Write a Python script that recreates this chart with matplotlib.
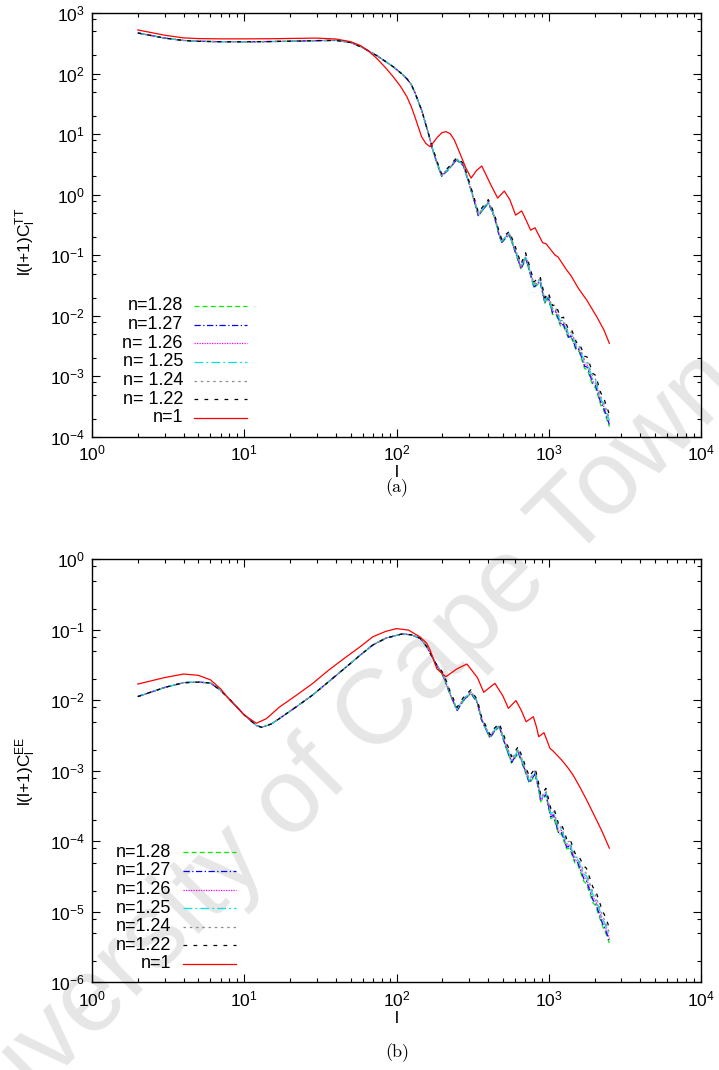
import matplotlib
matplotlib.use('Agg')
import matplotlib.pyplot as plt
from matplotlib.ticker import LogLocator, NullFormatter, LogFormatterSciNotation

plt.rcParams['font.family'] = ['Liberation Sans', 'DejaVu Sans']
plt.rcParams['mathtext.fontset'] = 'custom'
plt.rcParams['mathtext.rm'] = 'Liberation Sans'
plt.rcParams['mathtext.it'] = 'Liberation Sans:italic'
plt.rcParams['mathtext.default'] = 'regular'
plt.rcParams['axes.unicode_minus'] = False

# ---------------- data: panel (a) TT ----------------
labels_tt = ["n=1.28", "n=1.27", "n= 1.26", "n= 1.25", "n= 1.24", "n= 1.22", "n=1"]
labels_ee = ["n=1.28", "n=1.27", "n=1.26", "n=1.25", "n=1.24", "n=1.22", "n=1"]

# low-l part where all n != 1 curves coincide
ell_tt_low = [2, 3, 4, 5, 7, 10, 15, 20, 30, 40, 50, 60, 75, 95, 110, 118, 125, 132, 140, 147, 155, 162]
tt_low = [468, 385, 352, 341, 336, 335, 338, 342, 350, 353, 326, 268, 195, 130, 96, 80, 66, 49, 33, 24, 15, 10.3]

ell_tt_high = [170, 185, 198, 220, 248, 275, 300, 325, 345, 370, 401, 440, 470, 491, 520, 551,
               600, 658, 705, 750, 800, 877, 945, 993, 1060, 1110, 1200, 1250, 1350, 1410,
               1520, 1580, 1720, 1790, 1950, 2030, 2200, 2290, 2500]
tt_n128 = [6.2, 3.2, 2.0, 2.6, 3.7, 3.0, 1.5, 0.75, 0.44, 0.56, 0.72, 0.42, 0.22, 0.16, 0.19, 0.215,
           0.115, 0.058, 0.088, 0.052, 0.029, 0.036, 0.0158, 0.0195, 0.0105, 0.0110, 0.0066, 0.0068,
           0.0042, 0.0043, 0.0026, 0.0026, 0.00135, 0.00130, 0.00070, 0.00065, 0.00033, 0.00028, 0.000148]
tt_n127 = [6.3, 3.25, 2.03, 2.64, 3.76, 3.05, 1.52, 0.765, 0.45, 0.57, 0.735, 0.43, 0.224, 0.163, 0.194, 0.219,
           0.119, 0.060, 0.091, 0.054, 0.030, 0.037, 0.0164, 0.0202, 0.0111, 0.0117, 0.0070, 0.0072,
           0.00445, 0.00456, 0.00276, 0.00276, 0.00147, 0.00142, 0.00076, 0.00071, 0.00036, 0.000305, 0.000161]
tt_n126 = [6.4, 3.3, 2.06, 2.68, 3.81, 3.09, 1.55, 0.78, 0.46, 0.585, 0.75, 0.44, 0.23, 0.167, 0.199, 0.225,
           0.123, 0.062, 0.094, 0.0556, 0.031, 0.0385, 0.0169, 0.0209, 0.0118, 0.0123, 0.0074, 0.0076,
           0.0047, 0.0048, 0.0029, 0.0029, 0.00159, 0.00153, 0.00083, 0.00077, 0.00039, 0.00033, 0.000175]
tt_n125 = [6.45, 3.33, 2.08, 2.7, 3.85, 3.12, 1.56, 0.795, 0.466, 0.594, 0.763, 0.445, 0.233, 0.17, 0.201, 0.228,
           0.127, 0.064, 0.097, 0.057, 0.032, 0.040, 0.0174, 0.0215, 0.0124, 0.013, 0.0078, 0.008,
           0.0050, 0.0051, 0.0031, 0.0031, 0.00171, 0.00165, 0.00089, 0.00083, 0.00042, 0.000356, 0.000188]
tt_n124 = [6.55, 3.4, 2.12, 2.76, 3.92, 3.18, 1.59, 0.82, 0.48, 0.61, 0.785, 0.458, 0.24, 0.174, 0.207, 0.234,
           0.132, 0.067, 0.101, 0.06, 0.0334, 0.0414, 0.0182, 0.0224, 0.0131, 0.0138, 0.0083, 0.0085,
           0.00525, 0.0054, 0.00325, 0.00325, 0.00186, 0.00179, 0.00097, 0.0009, 0.000455, 0.000386, 0.000204]
tt_n122 = [6.8, 3.5, 2.2, 2.86, 4.07, 3.3, 1.65, 0.86, 0.506, 0.644, 0.83, 0.483, 0.253, 0.184, 0.219, 0.247,
           0.144, 0.0725, 0.11, 0.065, 0.0363, 0.045, 0.0198, 0.0244, 0.0147, 0.0154, 0.0092, 0.0095,
           0.0059, 0.006, 0.00364, 0.00364, 0.00216, 0.00208, 0.00112, 0.00104, 0.00053, 0.00045, 0.000237]

ell_tt_n1 = [2, 3, 4, 5, 7, 10, 15, 20, 30, 40, 50, 58, 66, 74, 84, 95, 106, 117, 125, 132, 139, 146,
             156, 166, 185, 198, 211, 225, 240, 261, 285, 309, 335, 363, 422, 462, 511, 556, 606, 664,
             710, 760, 812, 912, 960, 1099, 1150, 1312, 1400, 1565, 1774, 2065, 2300, 2500]
tt_n1 = [525, 430, 388, 378, 374, 374, 376, 380, 385, 372, 336, 290, 232, 179, 128, 89, 62, 41.5, 28.5, 19.4,
         13.2, 9.1, 7.0, 6.2, 8.8, 10.5, 11.0, 10.2, 8.0, 4.8, 2.8, 1.88, 2.5, 2.98, 1.36, 0.88, 1.15, 0.82,
         0.46, 0.54, 0.38, 0.26, 0.285, 0.161, 0.155, 0.101, 0.094, 0.057, 0.046, 0.0285, 0.0183, 0.0097,
         0.0059, 0.00352]

# ---------------- data: panel (b) EE ----------------
ell_ee_low = [2, 3, 4, 5, 6, 7, 8, 10, 12, 13, 15, 17, 22, 28, 36, 47, 58, 70, 85, 108, 125, 143, 158, 180]
ee_low = [0.0113, 0.0152, 0.0178, 0.0181, 0.0176, 0.0138, 0.0104, 0.0062, 0.0044, 0.00414, 0.0046, 0.0055,
          0.0081, 0.0118, 0.0185, 0.030, 0.044, 0.061, 0.076, 0.0871, 0.085, 0.0758, 0.0576, 0.034]

ell_ee_high = [203, 225, 250, 275, 308, 340, 361, 411, 440, 473, 520, 570, 631, 690, 746, 813, 850, 885,
               959, 1030, 1075, 1160, 1210, 1310, 1370, 1490, 1550, 1700, 1770, 1950, 2030, 2250, 2350, 2500]
ee_n128 = [0.0216, 0.012, 0.0071, 0.0098, 0.0126, 0.0090, 0.0053, 0.0029, 0.0036, 0.0042,
           0.0022, 0.00128, 0.00177, 0.00105, 0.00066, 0.00087, 0.00060, 0.000365, 0.00045,
           0.00021, 0.00022, 0.000125, 0.000128, 0.000078, 0.000080, 0.000048, 0.000047,
           0.000027, 0.000025, 0.0000135, 0.0000122, 0.0000063, 0.0000052, 0.0000036]
ee_n127 = [0.0219, 0.0122, 0.0072, 0.00995, 0.0128, 0.00914, 0.00538, 0.00294, 0.00365, 0.00426,
           0.00228, 0.00132, 0.00183, 0.00109, 0.000683, 0.0009, 0.00062, 0.000378, 0.000466,
           0.000223, 0.000233, 0.000133, 0.000136, 0.0000827, 0.0000848, 0.0000509, 0.0000498,
           0.0000294, 0.0000273, 0.0000147, 0.0000133, 0.00000687, 0.00000567, 0.00000392]
ee_n126 = [0.0224, 0.0124, 0.00735, 0.0101, 0.013, 0.00932, 0.00549, 0.003, 0.00373, 0.00435,
           0.00235, 0.00137, 0.00189, 0.00112, 0.000706, 0.00093, 0.000642, 0.00039, 0.000482,
           0.000235, 0.000246, 0.00014, 0.000143, 0.0000874, 0.0000896, 0.0000538, 0.0000526,
           0.0000319, 0.0000295, 0.0000159, 0.0000144, 0.00000743, 0.00000614, 0.00000425]
ee_n125 = [0.0227, 0.0126, 0.00746, 0.0103, 0.0132, 0.00945, 0.00557, 0.00305, 0.00378, 0.00441,
           0.00242, 0.00141, 0.00195, 0.00116, 0.000726, 0.000957, 0.00066, 0.000402, 0.000495,
           0.000248, 0.00026, 0.000148, 0.000151, 0.000092, 0.0000944, 0.0000566, 0.0000555,
           0.0000346, 0.000032, 0.0000173, 0.0000156, 0.00000806, 0.00000666, 0.00000461]
ee_n124 = [0.0231, 0.0128, 0.0076, 0.0105, 0.0135, 0.00963, 0.00567, 0.0031, 0.00385, 0.00449,
           0.00253, 0.00147, 0.00204, 0.00121, 0.000759, 0.001, 0.00069, 0.00042, 0.000518,
           0.000263, 0.000275, 0.000156, 0.00016, 0.0000975, 0.0001, 0.00006, 0.0000588,
           0.0000378, 0.000035, 0.0000189, 0.0000171, 0.00000882, 0.00000728, 0.00000504]
ee_n122 = [0.0242, 0.0134, 0.00795, 0.011, 0.0141, 0.0101, 0.00594, 0.00325, 0.00403, 0.0047,
           0.00275, 0.0016, 0.00221, 0.00131, 0.000825, 0.00109, 0.00075, 0.000456, 0.000563,
           0.000294, 0.000308, 0.000175, 0.000179, 0.000109, 0.000112, 0.0000672, 0.0000658,
           0.0000446, 0.0000413, 0.0000223, 0.0000201, 0.0000104, 0.00000858, 0.00000594]

ell_ee_n1 = [2, 3, 4, 5, 6, 7, 8, 10, 12, 14, 17, 22, 28, 36, 47, 58, 70, 85, 100, 120, 143,
             158, 166, 184, 211, 250, 290, 340, 374, 443, 500, 543, 609, 660, 710, 792, 830,
             859, 931, 1019, 1070, 1216, 1330, 1449, 1600, 1774, 2061, 2250, 2500]
ee_n1 = [0.0170, 0.0210, 0.0236, 0.0226, 0.0195, 0.0145, 0.0102, 0.0062, 0.00472, 0.0055, 0.0080,
         0.0118, 0.0172, 0.027, 0.0416, 0.058, 0.0798, 0.095, 0.104, 0.099, 0.079,
         0.0645, 0.052, 0.028, 0.0216, 0.028, 0.0327, 0.021, 0.013, 0.0174, 0.0115,
         0.0077, 0.0099, 0.0072, 0.00497, 0.00585, 0.0042, 0.00305, 0.00347, 0.00208, 0.0019,
         0.00142, 0.00112, 0.00086, 0.00059, 0.000385, 0.0002, 0.000135, 0.00008]

# ---------------- styles ----------------
colors = ['#00ee00', '#0000ff', '#ff00ff', '#00e5e5', '#8c8c8c', '#000000', '#ff0000']
dash_list = [(4, 2.5), (5, 2, 1, 2), (1, 1), (7, 2.5, 1.5, 2.5), (2, 3), (3, 5), None]
LW = 0.9

fig = plt.figure(figsize=(7.19, 10.70), dpi=100)

# watermark
fig.text(0.45, 0.28, 'University of Cape Town', rotation=45, fontsize=76,
         color='#e6e6e6', ha='center', va='center', zorder=-5,
         family=['Liberation Sans', 'DejaVu Sans'])

ax_a = fig.add_axes([92 / 719, 1 - 437 / 1070, 609 / 719, 424 / 1070])
ax_b = fig.add_axes([92 / 719, 1 - 982.3 / 1070, 609 / 719, 423 / 1070])


def style_axes(ax, ylo, yhi):
    ax.set_facecolor('none')
    ax.set_xscale('log')
    ax.set_yscale('log')
    ax.set_xlim(1, 1e4)
    ax.set_ylim(ylo, yhi)
    ax.xaxis.set_major_locator(LogLocator(base=10, numticks=20))
    ax.xaxis.set_minor_locator(LogLocator(base=10, subs=[2, 3, 4, 5, 6, 7, 8, 9], numticks=50))
    ax.yaxis.set_major_locator(LogLocator(base=10, numticks=20))
    ax.yaxis.set_minor_locator(LogLocator(base=10, subs=[2, 5, 8], numticks=50))
    ax.xaxis.set_minor_formatter(NullFormatter())
    ax.yaxis.set_minor_formatter(NullFormatter())
    ax.xaxis.set_major_formatter(LogFormatterSciNotation())
    ax.yaxis.set_major_formatter(LogFormatterSciNotation())
    ax.tick_params(which='both', direction='in', top=True, right=True, width=0.8,
                   labelsize=12.5, colors='black')
    ax.tick_params(which='major', length=5.5, pad=5)
    ax.tick_params(which='minor', length=3)
    for s in ax.spines.values():
        s.set_linewidth(1.0)


def plot_panel(ax, ell_low, low, ell_high, highs, ell_1, vals_1, labels, tx, lx0, lx1, ys):
    series = [(ell_low + ell_high, low + h) for h in highs] + [(ell_1, vals_1)]
    for i, (x, y) in enumerate(series):
        kw = dict(color=colors[i], lw=LW)
        ln, = ax.plot(x, y, **kw)
        if dash_list[i] is not None:
            ln.set_dashes(dash_list[i])
        # legend entry (gnuplot style: right-aligned text, sample to the right)
        ax.text(tx, ys[i], labels[i], transform=ax.transAxes, ha='right', va='center',
                fontsize=13)
        sm, = ax.plot([lx0, lx1], [ys[i], ys[i]], transform=ax.transAxes, **kw)
        if dash_list[i] is not None:
            sm.set_dashes(dash_list[i])


style_axes(ax_a, 1e-4, 1e3)
style_axes(ax_b, 1e-6, 1e0)

ys_a = [(437 - y) / 424 for y in [306, 324.7, 343.3, 362, 380.7, 399.3, 418]]
plot_panel(ax_a, ell_tt_low, tt_low, ell_tt_high,
           [tt_n128, tt_n127, tt_n126, tt_n125, tt_n124, tt_n122], ell_tt_n1, tt_n1,
           labels_tt, (183 - 92) / 609, (194 - 92) / 609, (247 - 92) / 609, ys_a)

ys_b = [(982.3 - y) / 423 for y in [852.3, 870.9, 889.5, 908.1, 926.7, 945.3, 964]]
plot_panel(ax_b, ell_ee_low, ee_low, ell_ee_high,
           [ee_n128, ee_n127, ee_n126, ee_n125, ee_n124, ee_n122], ell_ee_n1, ee_n1,
           labels_ee, (171 - 92) / 609, (183 - 92) / 609, (236 - 92) / 609, ys_b)

ax_a.set_xlabel('l', fontsize=12.5, labelpad=1)
ax_b.set_xlabel('l', fontsize=12.5, labelpad=1)
ax_a.set_ylabel(r'l(l+1)C$_l^{TT}$', fontsize=12.5)
ax_b.set_ylabel(r'l(l+1)C$_l^{EE}$', fontsize=12.5)
ax_a.yaxis.set_label_coords(-0.088, 0.46)
ax_b.yaxis.set_label_coords(-0.088, 0.5)

fig.text(397 / 719, 1 - 488 / 1070, '(a)', family='cmr10', fontsize=13, ha='center', va='center')
fig.text(397 / 719, 1 - 1053 / 1070, '(b)', family='cmr10', fontsize=13, ha='center', va='center')

fig.savefig('out.png', dpi=100)
